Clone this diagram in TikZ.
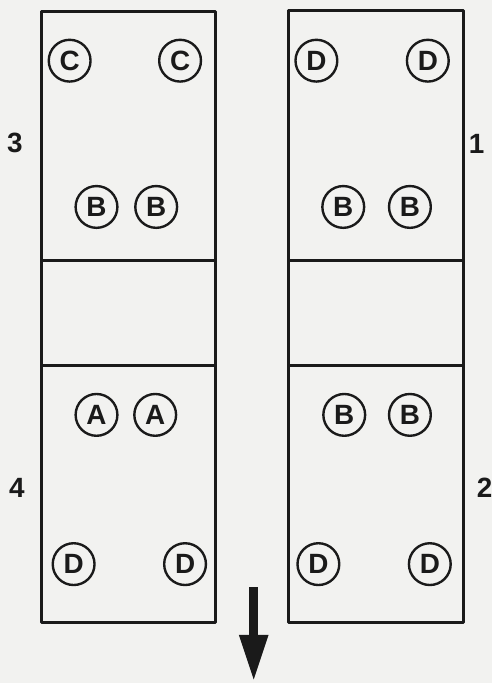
\documentclass[tikz,border=0pt]{standalone}
\usepackage{fontspec}
\setmainfont{Liberation Sans}
\usetikzlibrary{arrows.meta,positioning}
\definecolor{plateInk}{HTML}{1A1A1A}
\definecolor{plateGround}{HTML}{F2F2F0}

\begin{document}
\begin{tikzpicture}[x=1pt,y=-1pt,>=Latex,line cap=round,line join=round]
\path[fill=plateGround] (0,0) rectangle (494,686);
\tikzset{panel/.style={draw=plateInk,line width=3pt,anchor=north west,inner sep=0pt},
  pad/.style={draw=plateInk,line width=2.4pt,circle,minimum size=42pt,inner sep=0pt,text=plateInk,font=\bfseries\fontsize{28}{28}\selectfont},
  tag/.style={text=plateInk,font=\bfseries\fontsize{28}{28}\selectfont}}
% left column
\node[panel,minimum width=175pt,minimum height=250pt] (p3) at (40,10) {};
\node[panel,minimum width=175pt,minimum height=106pt] (gapL) at (40,260) {};
\node[panel,minimum width=175pt,minimum height=258pt] (p4) at (40,366) {};
% right column
\node[panel,minimum width=176pt,minimum height=251pt] (p1) at (288,9) {};
\node[panel,minimum width=176pt,minimum height=106pt] (gapR) at (288,260) {};
\node[panel,minimum width=176pt,minimum height=258pt] (p2) at (288,366) {};
% pads, panel 3
\node[pad] (c3a) at (70,61) {C}; \node[pad] (c3b) at (181,61) {C};
\node[pad] (b3a) at (97,208) {B}; \node[pad] (b3b) at (157,208) {B};
% pads, panel 1
\node[pad] (d1a) at (318,61) {D}; \node[pad] (d1b) at (430,61) {D};
\node[pad] (b1a) at (345,208) {B}; \node[pad] (b1b) at (412,208) {B};
% pads, panel 4
\node[pad] (a4a) at (97,417) {A}; \node[pad] (a4b) at (156,417) {A};
\node[pad] (d4a) at (74,567) {D}; \node[pad] (d4b) at (186,567) {D};
% pads, panel 2
\node[pad] (b2a) at (346,417) {B}; \node[pad] (b2b) at (412,417) {B};
\node[pad] (d2a) at (320,567) {D}; \node[pad] (d2b) at (432,567) {D};
% panel numbers
\node[tag] (n3) at (15,144) {3}; \node[tag] (n1) at (479,145) {1};
\node[tag] (n4) at (17,490) {4}; \node[tag] (n2) at (487,490) {2};
% direction of travel
\coordinate (flowTop) at (255,590);
\coordinate (flowTip) at (255,685);
\draw[plateInk,line width=9pt,line cap=butt,-{Triangle[width=27pt,length=47pt]}] (flowTop) -- (flowTip);
\end{tikzpicture}
\end{document}
